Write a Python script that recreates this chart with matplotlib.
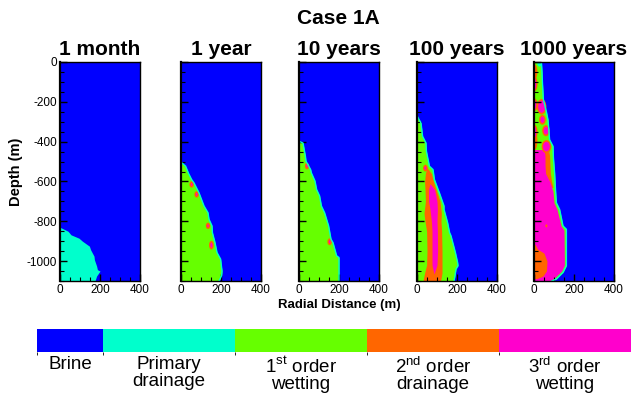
import matplotlib.pyplot as plt
import numpy as np
from matplotlib.ticker import MultipleLocator
from matplotlib.patches import Ellipse
from matplotlib.colors import ListedColormap, BoundaryNorm
from matplotlib.cm import ScalarMappable

plt.rcParams['font.family'] = 'Liberation Sans'
plt.rcParams['mathtext.fontset'] = 'custom'
plt.rcParams['mathtext.rm'] = 'Liberation Sans'
plt.rcParams['axes.unicode_minus'] = False

times = ['1 month', '1 year', '10 years', '100 years', '1000 years']
zone_names = ['Brine', 'Primary\ndrainage', '1$^{\\mathrm{st}}$ order\nwetting',
              '2$^{\\mathrm{nd}}$ order\ndrainage', '3$^{\\mathrm{rd}}$ order\nwetting']
zone_colors = ['#0000ff', '#00ffcc', '#66ff00', '#ff6600', '#ff00cc']
zone_levels = [0, 0.5, 1.5, 2.5, 3.5, 4.5]

# outer edge of the CO2 plume: depth (m) and radial distance (m)
front_1month_z = [-830, -850, -868, -885, -900, -925, -943, -975, -993, -1025, -1043, -1050, -1075, -1100]
front_1month_r = [0, 40, 55, 95, 112, 147, 153, 170, 172, 183, 187, 200, 183, 175]

front_1year_z = [-503, -523, -560, -590, -607, -657, -723, -757, -790, -823, -857, -907, -957, -990, -1050, -1073, -1090, -1100]
front_1year_r = [0, 23, 38, 53, 65, 90, 115, 135, 140, 155, 157, 170, 180, 198, 205, 203, 195, 190]

front_10years_z = [-398, -407, -473, -498, -540, -557, -598, -640, -673, -723, -757, -823, -890, -907, -973, -982, -1100]
front_10years_r = [0, 20, 32, 35, 58, 62, 80, 88, 103, 112, 128, 148, 160, 170, 188, 200, 200]

front_100years_z = [-270, -307, -373, -407, -448, -523, -540, -590, -657, -723, -740, -807, -857, -873, -957, -1007, -1023, -1040, -1073, -1100]
front_100years_r = [0, 20, 28, 45, 47, 62, 80, 87, 112, 135, 135, 153, 163, 170, 192, 203, 205, 195, 190, 185]

front_1000years_z = [0, -50, -100, -190, -250, -290, -390, -423, -480, -557, -650, -707, -740, -823, -840, -1023, -1057, -1090, -1100]
front_1000years_r = [37, 40, 42, 47, 62, 70, 78, 95, 97, 103, 108, 112, 128, 145, 162, 162, 145, 112, 90]

# inner zones: depth, left and right radial edges (m)
drain_100years_z = [-530, -560, -600, -640, -700, -760, -800, -850, -950, -1020, -1060, -1100]
drain_100years_l = [50, 42, 38, 40, 42, 35, 40, 48, 50, 48, 38, 30]
drain_100years_r = [50, 72, 82, 95, 115, 122, 120, 123, 125, 125, 125, 118]

wet_100years_z = [-610, -640, -700, -740, -800, -850, -950, -1020, -1065]
wet_100years_l = [65, 58, 58, 65, 72, 75, 75, 75, 85]
wet_100years_r = [65, 88, 100, 102, 100, 102, 103, 100, 85]

drain_1000years_z = [-440, -470, -520, -560, -600, -630]
drain_1000years_r = [72, 78, 80, 82, 88, 95]

wet_1000years_z = [-440, -470, -520, -560, -600, -650, -707, -740, -823, -845, -1020, -1050, -1085, -1100]
wet_1000years_r = [50, 55, 55, 58, 78, 95, 100, 115, 135, 150, 152, 138, 102, 78]

drain2_1000years_z = [-915, -940, -960, -1000, -1050, -1075, -1088]
drain2_1000years_r = [5, 18, 50, 65, 62, 45, 15]

# isolated patches: zone, radial centre, depth centre, width, height (m)
spots_1year = [(4, 53, -615, 8, 14), (4, 78, -665, 8, 14),
               (4, 135, -823, 8, 14), (4, 152, -920, 10, 26)]
spots_10years = [(4, 40, -523, 8, 14), (4, 153, -903, 8, 16)]
spots_100years = [(4, 42, -533, 10, 16)]
spots_1000years = [(1, 28, -8, 22, 30), (3, 4, -50, 26, 75), (3, 5, -395, 24, 90),
                   (4, 3, -110, 16, 55), (4, 38, -225, 34, 60), (4, 3, -215, 16, 45),
                   (4, 42, -290, 20, 32), (4, 3, -352, 16, 55), (4, 60, -345, 24, 38),
                   (4, 62, -425, 34, 48), (3, 62, -823, 10, 15)]


def draw_panel(ax, front_z, front_r, front_zone, bands=(), spots=()):
    ax.set_facecolor(zone_colors[0])
    ax.fill_betweenx(front_z, 0, front_r, color=zone_colors[front_zone], lw=0)
    if front_zone == 2:
        ax.plot(front_r, front_z, color=zone_colors[1], lw=1.0)
    for zone, z, left, right in bands:
        ax.fill_betweenx(z, left, right, color=zone_colors[zone], lw=0)
    for zone, r, z, w, h in spots:
        if zone == 4:
            ax.add_patch(Ellipse((r, z), w + 14, h + 18, color=zone_colors[3], lw=0))
        ax.add_patch(Ellipse((r, z), w, h, color=zone_colors[zone], lw=0))


W, H = 631, 394
fig = plt.figure(figsize=(W / 100, H / 100), dpi=100)
lefts = [60, 181, 299, 417, 534]
axes = [fig.add_axes([x / W, 1 - 281 / H, 80 / W, 219 / H]) for x in lefts]

draw_panel(axes[0], front_1month_z, front_1month_r, 1)
draw_panel(axes[1], front_1year_z, front_1year_r, 2, spots=spots_1year)
draw_panel(axes[2], front_10years_z, front_10years_r, 2, spots=spots_10years)
draw_panel(axes[3], front_100years_z, front_100years_r, 2,
           bands=[(3, drain_100years_z, drain_100years_l, drain_100years_r),
                  (4, wet_100years_z, wet_100years_l, wet_100years_r)],
           spots=spots_100years)
draw_panel(axes[4], front_1000years_z, front_1000years_r, 2,
           bands=[(3, drain_1000years_z, 0, drain_1000years_r),
                  (4, wet_1000years_z, 0, wet_1000years_r),
                  (3, drain2_1000years_z, 0, drain2_1000years_r)],
           spots=spots_1000years)

for k, (ax, t) in enumerate(zip(axes, times)):
    ax.set_xlim(0, 400)
    ax.set_ylim(-1100, 0)
    ax.set_title(t, fontsize=15, fontweight='bold', pad=5)
    ax.xaxis.set_major_locator(MultipleLocator(200))
    ax.xaxis.set_minor_locator(MultipleLocator(50))
    ax.yaxis.set_major_locator(MultipleLocator(200))
    ax.yaxis.set_minor_locator(MultipleLocator(50))
    ax.tick_params(which='both', direction='in', labelsize=8.5, pad=2)
    ax.tick_params(which='major', length=5, width=1)
    ax.tick_params(which='minor', length=3, width=0.8)
    for s in ax.spines.values():
        s.set_linewidth(1.0)
    ax.spines['left'].set_linewidth(1.6)
    if k == 0:
        ax.set_ylabel('Depth (m)', fontsize=10.5, fontweight='bold', labelpad=3)
    else:
        ax.set_yticklabels([])
    if k == 2:
        ax.set_xlabel('Radial Distance (m)', fontsize=9.5, fontweight='bold', labelpad=2)

fig.text(338 / W, 1 - 18 / H, 'Case 1A', fontsize=15, fontweight='bold',
         ha='center', va='center')

cax = fig.add_axes([37 / W, 1 - 352 / H, 594 / W, 23 / H])
cmap = ListedColormap(zone_colors)
norm = BoundaryNorm(zone_levels, cmap.N)
cbar = fig.colorbar(ScalarMappable(norm=norm, cmap=cmap), cax=cax,
                    orientation='horizontal', spacing='proportional')
centers = [(a + b) / 2 for a, b in zip(zone_levels[:-1], zone_levels[1:])]
cbar.set_ticks(centers, labels=zone_names)
cbar.ax.tick_params(length=0, labelsize=13.5, pad=3)
for lbl in cbar.ax.get_xticklabels():
    lbl.set_linespacing(0.95)
cbar.outline.set_visible(False)

fig.savefig('out.png', dpi=100)
